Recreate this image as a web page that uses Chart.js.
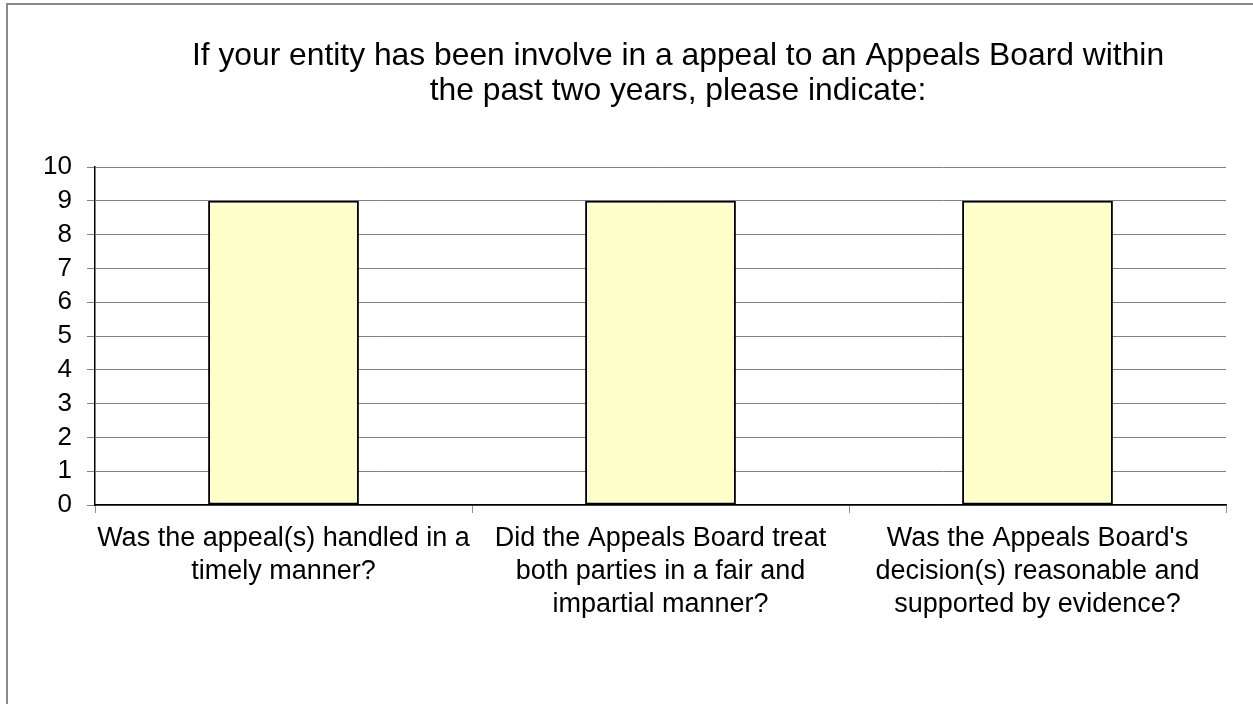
<!DOCTYPE html>
<html>
<head>
<meta charset="utf-8">
<script src="https://cdn.jsdelivr.net/npm/chart.js@4/dist/chart.umd.min.js"></script>
<style>
  html, body { margin: 0; padding: 0; background: #fff; }
  #wrap { position: relative; width: 1253px; height: 704px; }
  canvas { display: block; }
</style>
</head>
<body>
<div id="wrap"><canvas id="c" width="1253" height="704"></canvas></div>
<script>
const titleLines = [
  "If your entity has been involve in a appeal to an Appeals Board within",
  "the past two years, please indicate:"
];
const categories = [
  ["Was the appeal(s) handled in a", "timely manner?"],
  ["Did the Appeals Board treat", "both parties in a fair and", "impartial manner?"],
  ["Was the Appeals Board's", "decision(s) reasonable and", "supported by evidence?"]
];
const values = [9, 9, 9];
const yMin = 0, yMax = 10, yStep = 1;

const FONT = '"Liberation Sans", Arial, Helvetica, sans-serif';

const framePlugin = {
  id: 'frame',
  beforeDraw(chart) {
    const ctx = chart.ctx;
    ctx.save();
    ctx.fillStyle = '#ffffff';
    ctx.fillRect(0, 0, chart.width, chart.height);
    ctx.strokeStyle = '#8a8a8a';
    ctx.lineWidth = 2;
    ctx.strokeRect(7, 4, 3000, 3000);
    ctx.restore();
  },
  afterDraw(chart) {
    const ctx = chart.ctx;
    ctx.save();
    ctx.fillStyle = '#000';
    ctx.font = '31.8px ' + FONT;
    ctx.textAlign = 'center';
    ctx.textBaseline = 'alphabetic';
    ctx.fillText(titleLines[0], 678, 65);
    ctx.fillText(titleLines[1], 678, 100);
    ctx.restore();
  }
};

new Chart(document.getElementById('c'), {
  type: 'bar',
  data: {
    labels: categories,
    datasets: [{
      data: values,
      backgroundColor: '#FFFFCC',
      borderColor: '#000000',
      borderWidth: 2,
      borderSkipped: false,
      categoryPercentage: 0.4,
      barPercentage: 1.0
    }]
  },
  options: {
    responsive: false,
    animation: false,
    devicePixelRatio: 1,
    layout: { padding: { left: 0, top: 167, right: 27, bottom: 0 } },
    plugins: {
      legend: { display: false },
      title: { display: false },
      tooltip: { enabled: false }
    },
    scales: {
      x: {
        afterFit(scale) { scale.height = 199; },
        grid: {
          offset: true,
          drawOnChartArea: false,
          drawTicks: true,
          tickLength: 8,
          color: '#909090',
          lineWidth: 1
        },
        border: { display: true, color: '#000000', width: 1.5 },
        ticks: {
          color: '#000',
          font: { family: FONT, size: 27, lineHeight: 1.22 },
          padding: 9,
          maxRotation: 0,
          autoSkip: false
        }
      },
      y: {
        min: yMin,
        max: yMax,
        afterFit(scale) { scale.width = 95; },
        grid: {
          color: '#808080',
          lineWidth: 1,
          drawTicks: true,
          tickLength: 8
        },
        border: { display: true, color: '#000000', width: 1.5 },
        ticks: {
          stepSize: yStep,
          autoSkip: false,
          color: '#000',
          font: { family: FONT, size: 26 },
          padding: 15
        }
      }
    }
  },
  plugins: [framePlugin]
});
</script>
</body>
</html>
